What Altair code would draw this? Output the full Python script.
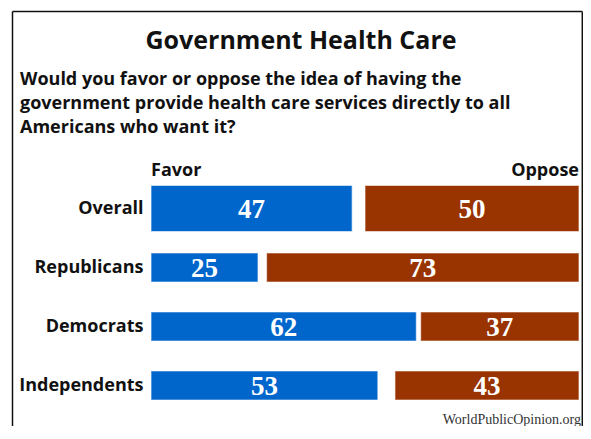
import altair as alt
import pandas as pd

categories = ["Overall", "Republicans", "Democrats", "Independents"]
favor = [47, 25, 62, 53]
oppose = [50, 73, 37, 43]
series_names = ["Favor", "Oppose"]
colors = ["#0066CC", "#993300"]

title_text = "Government Health Care"
question_lines = [
    "Would you favor or oppose the idea of having the",
    "government provide health care services directly to all",
    "Americans who want it?",
]
source_text = "WorldPublicOpinion.org"

rows = []
for g, f, o in zip(categories, favor, oppose):
    rows.append({"group": g, "series": "Favor", "value": f})
    rows.append({"group": g, "series": "Oppose", "value": o})
df = pd.DataFrame(rows)

xscale = alt.Scale(domain=[0, 100], nice=False, zero=True)
yscale = alt.Scale(paddingInner=0, paddingOuter=0)

base = alt.Chart(df).transform_calculate(
    start="datum.series == 'Favor' ? 0 : 100 - datum.value",
    end="datum.series == 'Favor' ? datum.value : 100",
).transform_calculate(mid="(datum.start + datum.end) / 2")

bars = base.mark_bar(strokeWidth=1.2, strokeOpacity=0.55).encode(
    x=alt.X("start:Q", scale=xscale, axis=None),
    x2="end:Q",
    y=alt.Y(
        "group:N",
        sort=categories,
        scale=yscale,
        title=None,
        axis=alt.Axis(
            domain=False,
            ticks=False,
            labelPadding=8,
            labelFont="Open Sans",
            labelFontWeight="bold",
            labelFontSize=18,
            labelColor="#111111",
        ),
    ),
    color=alt.Color(
        "series:N",
        scale=alt.Scale(domain=series_names, range=colors),
        legend=None,
    ),
    stroke=alt.value("#ffffff"),
    size=alt.condition(alt.datum.group == "Overall", alt.value(46), alt.value(29)),
)

labels = base.mark_text(
    font="Liberation Serif",
    fontWeight="bold",
    fontSize=27,
    color="white",
    baseline="middle",
    dy=1,
).encode(
    x=alt.X("mid:Q", scale=xscale),
    y=alt.Y("group:N", sort=categories, scale=yscale),
    text="value:Q",
)

head_df = pd.DataFrame({"series": series_names, "pos": [0, 100]})
head_style = dict(font="Open Sans", fontWeight="bold", fontSize=18, color="#111111",
                  baseline="alphabetic")
head_left = alt.Chart(head_df).transform_filter(alt.datum.series == "Favor").mark_text(
    align="left", **head_style
).encode(x=alt.X("pos:Q", scale=xscale), y=alt.value(-3), text="series:N")
head_right = alt.Chart(head_df).transform_filter(alt.datum.series == "Oppose").mark_text(
    align="right", **head_style
).encode(x=alt.X("pos:Q", scale=xscale), y=alt.value(-3), text="series:N")

title = alt.Chart(pd.DataFrame({"t": [title_text]})).mark_text(
    font="Open Sans", fontWeight="bold", fontSize=25, color="#111111", align="center",
    baseline="alphabetic",
).encode(x=alt.value(150), y=alt.value(-130), text="t:N")

question = alt.Chart(pd.DataFrame({"t": ["\n".join(question_lines)]})).mark_text(
    font="Open Sans", fontWeight="bold", fontSize=18, color="#111111", align="left",
    baseline="alphabetic", lineBreak="\n", lineHeight=24,
).encode(x=alt.value(-131), y=alt.value(-94), text="t:N")

source = alt.Chart(pd.DataFrame({"t": [source_text]})).mark_text(
    font="Liberation Serif", fontSize=14, color="#333333", align="right", baseline="alphabetic"
).encode(x=alt.value(430), y=alt.value(245), text="t:N")

one = pd.DataFrame({"a": [0]})
rule_style = dict(color="#111111", strokeWidth=1.5)
frame_left = alt.Chart(one).mark_rule(**rule_style).encode(
    x=alt.value(-138.5), y=alt.value(-167.5), y2=alt.value(260)
)
frame_right = alt.Chart(one).mark_rule(**rule_style).encode(
    x=alt.value(431.3), y=alt.value(-167.5), y2=alt.value(260)
)
frame_top = alt.Chart(one).mark_rule(**rule_style).encode(
    x=alt.value(-138.5), x2=alt.value(431.3), y=alt.value(-167.5)
)

chart = alt.layer(
    bars, labels, head_left, head_right, title, question, source,
    frame_left, frame_right, frame_top
).properties(
    width=428,
    height=236,
    autosize=alt.AutoSizeParams(type="none"),
    padding={"left": 143, "top": 171, "right": 4, "bottom": 11},
    background="white",
).configure_view(strokeWidth=0)

chart.save("out.html", embed_options={"renderer": "svg", "actions": False})
